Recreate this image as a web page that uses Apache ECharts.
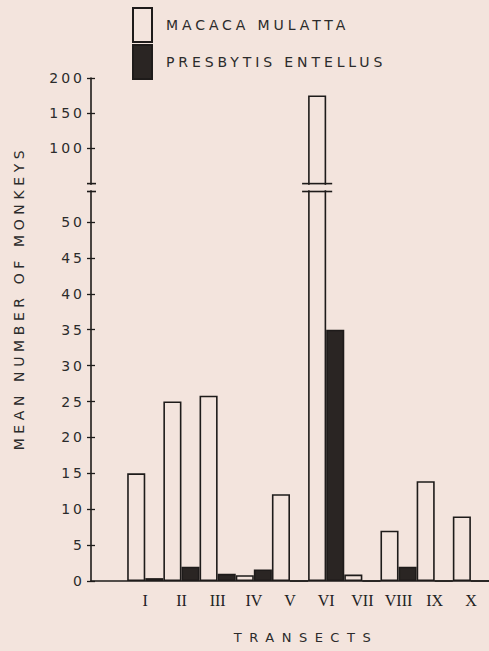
<!DOCTYPE html>
<html><head><meta charset="utf-8">
<script src="https://cdn.jsdelivr.net/npm/echarts@6/dist/echarts.min.js"></script>
<style>html,body{margin:0;padding:0;background:#f3e4dd;}#c{width:489px;height:651px;}</style>
</head><body><div id="c"></div>
<script>
// ---- data ----
const categories = ['', 'I', 'II', 'III', 'IV', 'V', 'VI', 'VII', 'VIII', 'IX', 'X'];
const macacaMulatta = [null, 15.0, 25.0, 25.8, 0.8, 12.1, 175, 0.9, 7.0, 13.9, 9.0];
const presbytisEntellus = [null, 0.4, 2.0, 1.0, 1.6, 0, 35.0, 0, 2.0, 0, 0];
const yTickValues = [0, 5, 10, 15, 20, 25, 30, 35, 40, 45, 50, 100, 150, 200];
const seriesNames = ['MACACA MULATTA', 'PRESBYTIS ENTELLUS'];
const axisTitleY = 'MEAN NUMBER OF MONKEYS';
const axisTitleX = 'TRANSECTS';

// ---- broken value scale: 0-50 linear, 100-200 compressed above a break ----
const BREAK_LOW = 50, BREAK_HIGH = 100;
const UPPER_BASE = 60.3, UPPER_SCALE = 0.0976;
function toAxis(v) { if (v == null) return null; return v <= BREAK_LOW ? v : UPPER_BASE + (v - BREAK_HIGH) * UPPER_SCALE; }
function fromAxis(a) { return a <= BREAK_LOW + 1 ? a : BREAK_HIGH + (a - UPPER_BASE) / UPPER_SCALE; }
const BREAK_BOTTOM = 54.25, BREAK_TOP = 55.35;

const BG = '#f3e4dd', INK = '#1e1b1a', DARK = '#2a2523';
const yTickAxis = yTickValues.map(toAxis);
const yMax = toAxis(200);

const chart = echarts.init(document.getElementById('c'), null, {renderer: 'svg'});
const option = {
  animation: false,
  backgroundColor: BG,
  grid: {left: 91, top: 78, bottom: 70, width: 401},
  legend: {
    data: seriesNames, orient: 'vertical', left: 132, top: 7, padding: 0,
    itemWidth: 19, itemHeight: 34, itemGap: 1, icon: 'rect', selectedMode: false,
    textStyle: {fontFamily: 'DejaVu Sans', fontSize: 14, color: '#2b2b2b', padding: [0, 0, 0, 9]}
  },
  xAxis: {
    type: 'category', data: categories, boundaryGap: true,
    axisLine: {lineStyle: {color: INK, width: 1.6}},
    axisTick: {show: false},
    axisLabel: {interval: 0, fontFamily: 'Liberation Serif', fontSize: 16, color: '#222', margin: 11}
  },
  yAxis: [{
    type: 'value', min: 0, max: yMax,
    axisLine: {show: true, lineStyle: {color: INK, width: 1.6}},
    splitLine: {show: false},
    axisTick: {show: true, customValues: yTickAxis, length: 4, lineStyle: {color: INK, width: 1.3}},
    axisLabel: {customValues: yTickAxis, formatter: v => String(Math.round(fromAxis(v))),
      margin: 6, fontFamily: 'DejaVu Sans', fontSize: 14, color: '#2b2b2b'}
  }, {
    type: 'value', min: 0, max: yMax, position: 'left',
    axisLine: {show: false}, splitLine: {show: false},
    axisTick: {show: true, inside: true, customValues: yTickAxis, length: 4, lineStyle: {color: INK, width: 1.3}},
    axisLabel: {show: false}
  }],
  series: [{
    name: seriesNames[0], type: 'bar', yAxisIndex: 0,
    data: macacaMulatta.map(toAxis),
    barGap: '0%', barCategoryGap: '0%',
    itemStyle: {color: BG, borderColor: INK, borderWidth: 1.6}
  }, {
    name: seriesNames[1], type: 'bar', yAxisIndex: 0,
    data: presbytisEntellus.map(toAxis),
    barGap: '0%', barCategoryGap: '0%',
    itemStyle: {color: DARK, borderColor: INK, borderWidth: 1.6}
  }],
  graphic: [{
    type: 'text', x: 19, y: 298, rotation: Math.PI / 2,
    style: {text: axisTitleY, fontFamily: 'DejaVu Sans', fontSize: 14, fill: '#2b2b2b', align: 'center', verticalAlign: 'middle'}
  }, {
    type: 'text', x: 306, y: 637,
    style: {text: axisTitleX, fontFamily: 'DejaVu Sans', fontSize: 13, fill: '#2b2b2b', align: 'center', verticalAlign: 'middle'}
  }]
};
chart.setOption(option);

// break marks on axis and on the tall bar, located through the chart's own scales
const px = i => chart.convertToPixel({xAxisIndex: 0}, i);
const bandW = px(1) - px(0);
const axisX = px(0) - bandW / 2;
const yB = chart.convertToPixel({yAxisIndex: 0}, BREAK_BOTTOM);
const yT = chart.convertToPixel({yAxisIndex: 0}, BREAK_TOP);
const tallIdx = macacaMulatta.indexOf(Math.max(...macacaMulatta.filter(v => v != null)));
const barL = px(tallIdx) - bandW / 2, barR = px(tallIdx);
const line = (x1, x2, y) => ({type: 'line', z: 100, shape: {x1, y1: y, x2, y2: y}, style: {stroke: INK, lineWidth: 1.6}});
chart.setOption({graphic: option.graphic.concat([
  {type: 'rect', z: 99, shape: {x: axisX - 6, y: yT + 1.2, width: 12, height: yB - yT - 2.4}, style: {fill: BG}},
  line(axisX - 4, axisX + 5, yT), line(axisX - 4, axisX + 5, yB),
  {type: 'rect', z: 99, shape: {x: barL - 2, y: yT + 1.2, width: barR - barL + 4, height: yB - yT - 2.4}, style: {fill: BG}},
  line(barL - 6, barR + 6, yT), line(barL - 6, barR + 6, yB)
])});

function applySpacing() {
  document.querySelectorAll('#c svg text').forEach(t => {
    const s = t.textContent;
    let ls = null;
    if (/^\d+$/.test(s)) ls = 3;
    else if (s === axisTitleY) ls = 4.6;
    else if (s === axisTitleX) ls = 7.5;
    else if (seriesNames.includes(s)) ls = 3.9;
    if (ls != null) t.style.letterSpacing = ls + 'px';
  });
}
applySpacing();
chart.on('finished', applySpacing);
</script></body></html>
